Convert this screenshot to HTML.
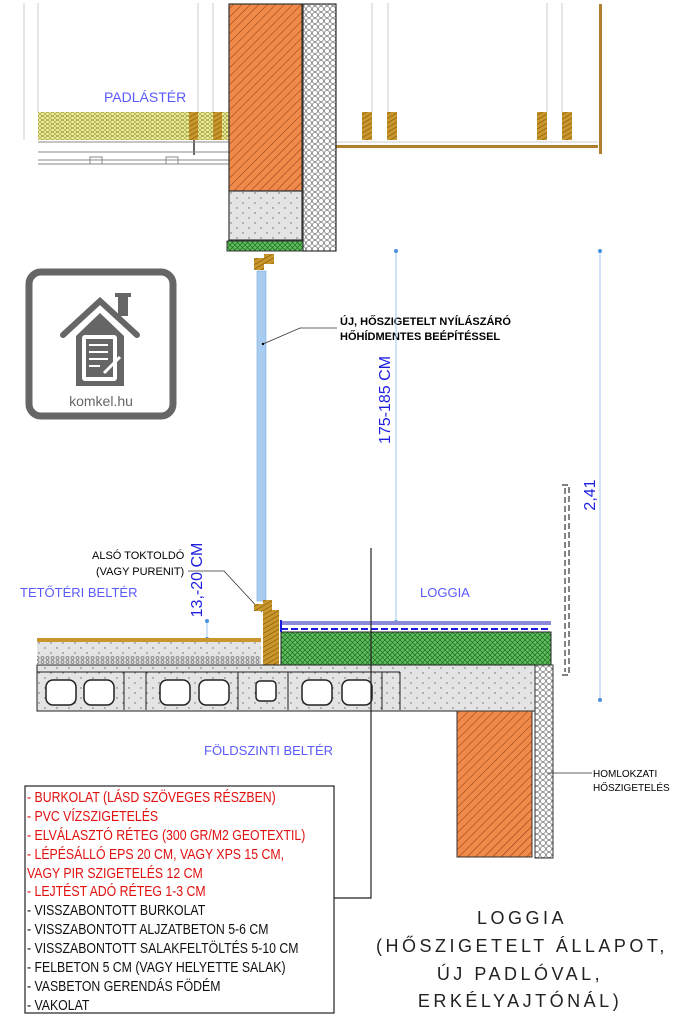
<!DOCTYPE html>
<html><head><meta charset="utf-8"><style>
html,body{margin:0;padding:0;background:#fff}
svg{display:block}
text{font-family:"Liberation Sans",sans-serif}
</style></head><body>
<svg width="688" height="1024" viewBox="0 0 688 1024" xmlns="http://www.w3.org/2000/svg">
<defs>
<pattern id="brick" width="6" height="6" patternUnits="userSpaceOnUse" patternTransform="rotate(45)"><rect width="6" height="6" fill="#f08a4b"/><line x1="0" y1="0" x2="0" y2="6" stroke="#8a3a10" stroke-width="1"/></pattern>
<pattern id="eps" width="6" height="6" patternUnits="userSpaceOnUse"><rect width="6" height="6" fill="#fff"/><circle cx="3" cy="3" r="2.6" fill="none" stroke="#555" stroke-width="0.6"/></pattern>
<pattern id="wool" width="5" height="4" patternUnits="userSpaceOnUse"><rect width="5" height="4" fill="#f2f09a"/><circle cx="2.5" cy="2" r="1.8" fill="none" stroke="#8a8a30" stroke-width="0.6"/></pattern>
<pattern id="green" width="5" height="5" patternUnits="userSpaceOnUse"><rect width="5" height="5" fill="#5fbf5f"/><path d="M0 0L5 5M5 0L0 5" stroke="#1e6a1e" stroke-width="0.7"/></pattern>
<pattern id="wood" width="4" height="4" patternUnits="userSpaceOnUse" patternTransform="rotate(-30)"><rect width="4" height="4" fill="#c9962a"/><line x1="0" y1="0" x2="4" y2="0" stroke="#6a4a10" stroke-width="1"/></pattern>
<pattern id="conc" width="12" height="10" patternUnits="userSpaceOnUse"><rect width="12" height="10" fill="#e4e4e4"/><circle cx="3" cy="3" r="0.7" fill="#666"/><circle cx="9" cy="8" r="0.7" fill="#666"/></pattern>
<pattern id="grav" width="5" height="4" patternUnits="userSpaceOnUse"><rect width="5" height="4" fill="#ddd"/><circle cx="2.5" cy="2" r="1.5" fill="none" stroke="#555" stroke-width="0.6"/></pattern>
</defs>

<g stroke="#ccc" stroke-width="1">
<line x1="24" y1="3" x2="24" y2="140"/><line x1="38" y1="3" x2="38" y2="112"/>
<line x1="198" y1="3" x2="198" y2="112"/><line x1="213" y1="3" x2="213" y2="112"/>
<line x1="372" y1="3" x2="372" y2="112"/><line x1="388" y1="3" x2="388" y2="112"/>
<line x1="547" y1="3" x2="547" y2="112"/><line x1="562" y1="3" x2="562" y2="112"/>
</g>
<text x="104" y="102" font-size="14" fill="#5a5aff">PADLÁSTÉR</text>
<rect x="38" y="112" width="192" height="28" fill="url(#wool)"/>
<rect x="189" y="112" width="9" height="28" fill="url(#wood)"/>
<rect x="213" y="112" width="9" height="28" fill="url(#wood)"/>
<rect x="362" y="112" width="10" height="28" fill="url(#wood)"/>
<rect x="387" y="112" width="10" height="28" fill="url(#wood)"/>
<rect x="537" y="112" width="10" height="28" fill="url(#wood)"/>
<rect x="562" y="112" width="10" height="28" fill="url(#wood)"/>
<line x1="194" y1="140" x2="194" y2="155" stroke="#000" stroke-width="1.2"/>
<g stroke="#888" stroke-width="1" fill="none">
<line x1="38" y1="142" x2="230" y2="142"/><line x1="38" y1="152" x2="230" y2="152"/>
<line x1="38" y1="160" x2="230" y2="160"/><line x1="38" y1="164" x2="230" y2="164"/>
<rect x="90" y="157" width="12" height="7"/><rect x="166" y="157" width="12" height="7"/>
</g>
<rect x="336" y="145" width="262" height="3" fill="#b08030"/>
<line x1="336" y1="142" x2="598" y2="142" stroke="#ccc"/>
<rect x="599" y="4" width="3" height="150" fill="#b08030"/>

<rect x="229" y="4" width="73" height="187" fill="url(#brick)" stroke="#333" stroke-width="1.2"/>
<rect x="229" y="191" width="73" height="49" fill="url(#conc)" stroke="#333" stroke-width="1.2"/>
<rect x="227" y="241" width="79" height="10" fill="url(#green)" stroke="#333"/>
<rect x="303" y="4" width="33" height="247" fill="url(#eps)" stroke="#333" stroke-width="1.2"/>
<path d="M254 258h10v-4h10v10h-10v6h-10z" fill="url(#wood)"/>

<rect x="257" y="271" width="9" height="330" fill="#a8cdf0" stroke="#7aa8dc" stroke-width="0.6"/>

<rect x="29" y="272" width="144" height="144" rx="12" fill="#fff" stroke="#666" stroke-width="7"/>
<path d="M63 335 L100 301 L137 335" fill="none" stroke="#666" stroke-width="6" stroke-linecap="round"/>
<rect x="118" y="296" width="10" height="20" fill="#666"/><rect x="115" y="293" width="16" height="4" fill="#666"/>
<path d="M76 336 L100 313 L124 336 V386 H76 Z" fill="#666"/>
<rect x="82" y="335" width="35" height="46" rx="3" fill="#fff"/>
<rect x="86" y="339" width="27" height="38" fill="#666"/>
<g stroke="#fff" stroke-width="2"><line x1="89" y1="345" x2="108" y2="345"/><line x1="89" y1="352" x2="108" y2="352"/><line x1="89" y1="359" x2="108" y2="359"/><line x1="89" y1="366" x2="100" y2="366"/></g>
<line x1="104" y1="373" x2="120" y2="357" stroke="#fff" stroke-width="3"/>
<text x="101" y="406" font-size="14" fill="#666" text-anchor="middle">komkel.hu</text>

<polyline points="263,344 300,328 337,328" fill="none" stroke="#333" stroke-width="0.8"/>
<circle cx="263" cy="344" r="1.2" fill="#000"/>
<text x="340" y="325" font-size="11" font-weight="bold" fill="#000">ÚJ, HŐSZIGETELT NYÍLÁSZÁRÓ</text>
<text x="340" y="340" font-size="11" font-weight="bold" fill="#000">HŐHÍDMENTES BEÉPÍTÉSSEL</text>

<line x1="396" y1="251" x2="396" y2="622" stroke="#9cc6f0"/>
<circle cx="396" cy="251" r="2" fill="#4a90e0"/><circle cx="396" cy="622" r="2" fill="#4a90e0"/>
<text transform="translate(390,400) rotate(-90)" font-size="16" fill="#2020e0" text-anchor="middle">175-185 CM</text>
<line x1="600" y1="251" x2="600" y2="700" stroke="#9cc6f0"/>
<circle cx="600" cy="251" r="2" fill="#4a90e0"/><circle cx="600" cy="700" r="2" fill="#4a90e0"/>
<text transform="translate(595,495) rotate(-90)" font-size="16" fill="#2020e0" text-anchor="middle">2,41</text>
<line x1="207" y1="620" x2="207" y2="640" stroke="#9cc6f0"/>
<circle cx="207" cy="621" r="2" fill="#4a90e0"/><circle cx="207" cy="639" r="2" fill="#4a90e0"/>
<text transform="translate(202,580) rotate(-90)" font-size="16" fill="#2020e0" text-anchor="middle">13,-20 CM</text>

<g fill="none" stroke="#333" stroke-width="1.2">
<path d="M562 485h7v190h-7" stroke-dasharray="6,3"/>
<line x1="565" y1="488" x2="565" y2="672" stroke-dasharray="6,3"/>
</g>

<text x="92" y="559" font-size="11" fill="#000">ALSÓ TOKTOLDÓ</text>
<text x="96" y="575" font-size="11" fill="#000">(VAGY PURENIT)</text>
<polyline points="188,571 224,571 262,612" fill="none" stroke="#333" stroke-width="0.8"/>
<text x="20" y="597" font-size="13" fill="#5a5aff">TETŐTÉRI BELTÉR</text>
<text x="420" y="597" font-size="13" fill="#5a5aff">LOGGIA</text>

<rect x="37" y="638" width="224" height="4" fill="#c9962a"/>
<rect x="37" y="642" width="224" height="14" fill="url(#conc)"/>
<rect x="37" y="656" width="224" height="8" fill="url(#grav)"/>
<path d="M254 604h9v-4h9v10h7v55h-16v-54h-9z" fill="url(#wood)"/>
<rect x="281" y="632" width="270" height="33" fill="url(#green)" stroke="#222"/>
<rect x="281" y="621" width="270" height="4" fill="#8a8ad8"/>
<line x1="281" y1="629" x2="551" y2="629" stroke="#1a1ae0" stroke-width="2" stroke-dasharray="7,3"/>
<line x1="281" y1="620" x2="281" y2="632" stroke="#1a1ae0" stroke-width="2"/>
<rect x="37" y="665" width="498" height="46" fill="url(#conc)" stroke="#222"/>
<g fill="#fff" stroke="#222" stroke-width="1.5">
<rect x="46" y="680" width="30" height="25" rx="7"/><rect x="84" y="680" width="30" height="25" rx="7"/>
<rect x="160" y="680" width="30" height="25" rx="7"/><rect x="199" y="680" width="30" height="25" rx="7"/>
<rect x="302" y="680" width="30" height="25" rx="7"/><rect x="342" y="680" width="30" height="25" rx="7"/>
<rect x="256" y="681" width="20" height="20" rx="4"/>
</g>
<g stroke="#222" stroke-width="1"><line x1="37" y1="672" x2="400" y2="672"/>
<line x1="124" y1="672" x2="124" y2="710"/><line x1="146" y1="672" x2="146" y2="710"/>
<line x1="238" y1="672" x2="238" y2="710"/><line x1="288" y1="672" x2="288" y2="710"/>
<line x1="382" y1="672" x2="382" y2="710"/><line x1="400" y1="672" x2="400" y2="710"/></g>
<rect x="535" y="665" width="18" height="193" fill="url(#eps)" stroke="#333"/>
<rect x="457" y="711" width="75" height="146" fill="url(#brick)" stroke="#333"/>
<text x="204" y="755" font-size="13" fill="#5a5aff">FÖLDSZINTI BELTÉR</text>
<line x1="547" y1="773" x2="592" y2="773" stroke="#333" stroke-width="0.8"/>
<text x="593" y="777" font-size="10" fill="#000">HOMLOKZATI</text>
<text x="593" y="791" font-size="10" fill="#000">HŐSZIGETELÉS</text>

<polyline points="334,898 371,898 371,548" fill="none" stroke="#222" stroke-width="1.2"/>
<rect x="25" y="786" width="309" height="227" fill="#fff" stroke="#222" stroke-width="1.2"/>
<g font-size="15" transform="translate(27,0) scale(0.82,1)">
<text x="0" y="802" fill="#e01010">- BURKOLAT (LÁSD SZÖVEGES RÉSZBEN)</text>
<text x="0" y="821" fill="#e01010">- PVC VÍZSZIGETELÉS</text>
<text x="0" y="840" fill="#e01010">- ELVÁLASZTÓ RÉTEG (300 GR/M2 GEOTEXTIL)</text>
<text x="0" y="859" fill="#e01010">- LÉPÉSÁLLÓ EPS 20 CM, VAGY XPS 15 CM,</text>
<text x="0" y="878" fill="#e01010">VAGY PIR SZIGETELÉS 12 CM</text>
<text x="0" y="896" fill="#e01010">- LEJTÉST ADÓ RÉTEG 1-3 CM</text>
<text x="0" y="915" fill="#111">- VISSZABONTOTT BURKOLAT</text>
<text x="0" y="934" fill="#111">- VISSZABONTOTT ALJZATBETON 5-6 CM</text>
<text x="0" y="953" fill="#111">- VISSZABONTOTT SALAKFELTÖLTÉS 5-10 CM</text>
<text x="0" y="972" fill="#111">- FELBETON 5 CM (VAGY HELYETTE SALAK)</text>
<text x="0" y="991" fill="#111">- VASBETON GERENDÁS FÖDÉM</text>
<text x="0" y="1010" fill="#111">- VAKOLAT</text>
</g>
<g font-size="18" fill="#222" text-anchor="middle" letter-spacing="3.5">
<text x="522" y="924">LOGGIA</text>
<text x="522" y="952">(HŐSZIGETELT ÁLLAPOT,</text>
<text x="520" y="980">ÚJ PADLÓVAL,</text>
<text x="520" y="1007">ERKÉLYAJTÓNÁL)</text>
</g>
</svg>
</body></html>
